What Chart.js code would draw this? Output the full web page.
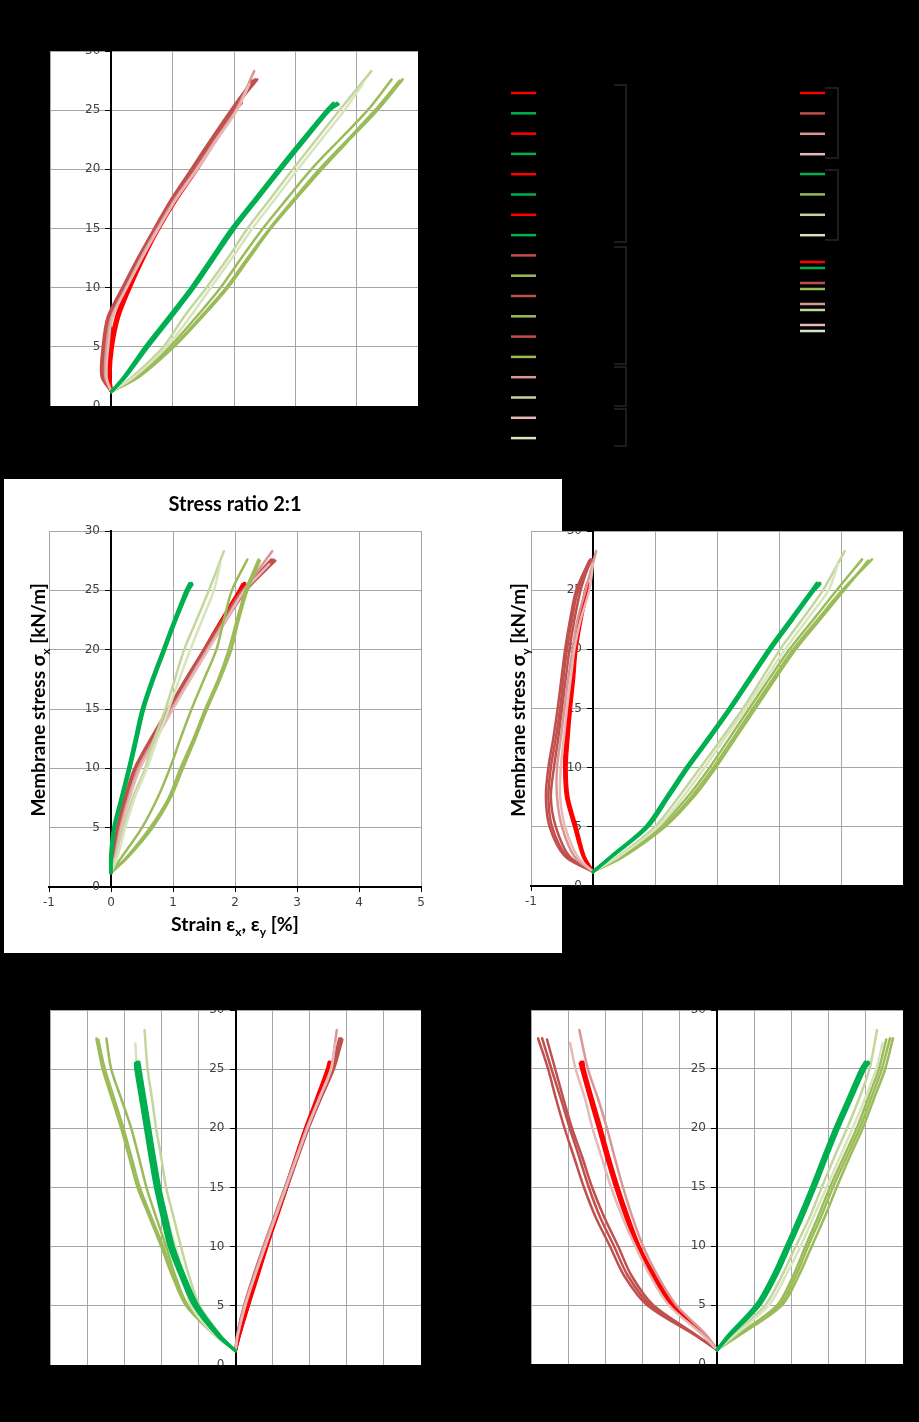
<!DOCTYPE html>
<html>
<head>
<meta charset="utf-8">
<title>Biaxial test curves</title>
<script src="https://cdn.jsdelivr.net/npm/chart.js@4.4.1/dist/chart.umd.min.js"></script>
<style>
  html, body { margin: 0; padding: 0; background: #000; }
  #page { position: relative; width: 919px; height: 1422px; background: #000; overflow: hidden; }
  canvas { position: absolute; }
  #cB { background: #fff; }
</style>
</head>
<body>
<div id="page">
  <canvas id="cA" width="919" height="470" style="left:0;top:0"></canvas>
  <canvas id="cB" width="558" height="474" style="left:4px;top:479px"></canvas>
  <canvas id="cC" width="457" height="490" style="left:462px;top:470px"></canvas>
  <canvas id="cD" width="460" height="462" style="left:0;top:960px"></canvas>
  <canvas id="cE" width="459" height="462" style="left:460px;top:960px"></canvas>
</div>
<script>
// stress levels [kN/m] shared by all curves, then the peak of each test
const stressSteps = [1.2, 2.5, 5, 7.5, 10, 12.5, 15, 17.5, 20, 22.5, 25];
const peakStress = [25.6, 25.5, 25.6, 25.4, 27.6, 27.6, 27.5, 28.3, 27.2];
const testNames = ['Test 1', 'Test 2', 'Test 3', 'Test 4', 'Test 5', 'Test 6', 'Test 7', 'Test 8', 'Test 9'];
const warpColors = ['#ff0000', '#ff0000', '#ff0000', '#ff0000', '#c0504d', '#c0504d', '#c0504d', '#d99694', '#e6b9b8'];
const weftColors = ['#00b050', '#00b050', '#00b050', '#00b050', '#9bbb59', '#9bbb59', '#9bbb59', '#c3d69b', '#d7e4bd'];

// strain [%] per test (rows) at each stress level (columns)
const topX = [
  [0, -0.02, 0.00, 0.10, 0.28, 0.50, 0.75, 1.05, 1.38, 1.68, 2.00, 2.10],
  [0, -0.03, -0.01, 0.08, 0.26, 0.48, 0.73, 1.03, 1.36, 1.66, 1.98, 2.06],
  [0, -0.02, 0.02, 0.12, 0.31, 0.53, 0.78, 1.07, 1.40, 1.71, 2.02, 2.12],
  [0, -0.04, -0.02, 0.09, 0.27, 0.49, 0.76, 1.05, 1.37, 1.69, 2.00, 2.07],
  [0, -0.15, -0.12, -0.05, 0.20, 0.45, 0.72, 1.00, 1.33, 1.65, 1.98, 2.38],
  [0, -0.13, -0.10, -0.02, 0.22, 0.47, 0.74, 1.02, 1.36, 1.68, 2.00, 2.34],
  [0, -0.16, -0.14, -0.06, 0.18, 0.43, 0.70, 0.98, 1.30, 1.62, 1.95, 2.30],
  [0, -0.10, -0.08, 0.00, 0.24, 0.48, 0.75, 1.04, 1.38, 1.70, 2.03, 2.33],
  [0, -0.08, -0.05, 0.02, 0.25, 0.50, 0.77, 1.06, 1.40, 1.72, 2.05, 2.25]
];
const topY = [
  [0, 0.22, 0.57, 0.95, 1.33, 1.65, 1.98, 2.36, 2.74, 3.13, 3.53, 3.68],
  [0, 0.24, 0.60, 0.98, 1.35, 1.68, 2.01, 2.39, 2.77, 3.16, 3.56, 3.70],
  [0, 0.21, 0.55, 0.93, 1.30, 1.63, 1.96, 2.34, 2.72, 3.11, 3.51, 3.62],
  [0, 0.23, 0.58, 0.96, 1.34, 1.67, 2.00, 2.38, 2.76, 3.15, 3.55, 3.66],
  [0, 0.42, 0.95, 1.38, 1.78, 2.12, 2.47, 2.86, 3.26, 3.72, 4.18, 4.57],
  [0, 0.46, 1.02, 1.48, 1.90, 2.25, 2.60, 3.01, 3.43, 3.88, 4.34, 4.75],
  [0, 0.45, 1.00, 1.45, 1.87, 2.22, 2.58, 2.98, 3.39, 3.85, 4.30, 4.70],
  [0, 0.35, 0.85, 1.18, 1.55, 1.90, 2.22, 2.59, 2.96, 3.34, 3.72, 4.24],
  [0, 0.38, 0.90, 1.28, 1.62, 1.97, 2.30, 2.67, 3.04, 3.42, 3.80, 4.10]
];
const midLeftX = [
  [0, 0.05, 0.13, 0.26, 0.42, 0.68, 0.96, 1.24, 1.52, 1.80, 2.09, 2.15],
  [0, 0.04, 0.12, 0.25, 0.41, 0.67, 0.95, 1.22, 1.50, 1.78, 2.07, 2.12],
  [0, 0.06, 0.14, 0.27, 0.43, 0.69, 0.97, 1.25, 1.53, 1.81, 2.10, 2.16],
  [0, 0.05, 0.13, 0.26, 0.42, 0.68, 0.96, 1.23, 1.51, 1.79, 2.08, 2.12],
  [0, 0.02, 0.10, 0.22, 0.38, 0.64, 0.92, 1.20, 1.50, 1.80, 2.12, 2.62],
  [0, 0.03, 0.11, 0.24, 0.40, 0.66, 0.94, 1.23, 1.53, 1.83, 2.15, 2.58],
  [0, 0.02, 0.12, 0.25, 0.41, 0.67, 0.95, 1.25, 1.55, 1.86, 2.18, 2.65],
  [0, 0.06, 0.15, 0.28, 0.44, 0.70, 0.98, 1.26, 1.55, 1.84, 2.14, 2.60],
  [0, 0.07, 0.17, 0.30, 0.47, 0.73, 1.00, 1.28, 1.57, 1.86, 2.16, 2.55]
];
const midLeftY = [
  [0, 0.00, 0.05, 0.17, 0.29, 0.40, 0.51, 0.67, 0.85, 1.03, 1.23, 1.30],
  [0, 0.01, 0.06, 0.18, 0.31, 0.42, 0.53, 0.69, 0.87, 1.05, 1.25, 1.31],
  [0, -0.01, 0.04, 0.16, 0.28, 0.39, 0.50, 0.66, 0.84, 1.02, 1.21, 1.27],
  [0, 0.00, 0.05, 0.17, 0.30, 0.41, 0.52, 0.68, 0.86, 1.04, 1.24, 1.29],
  [0, 0.17, 0.50, 0.75, 0.95, 1.12, 1.30, 1.50, 1.70, 1.82, 1.95, 2.20],
  [0, 0.25, 0.63, 0.93, 1.12, 1.33, 1.52, 1.73, 1.90, 2.03, 2.17, 2.38],
  [0, 0.27, 0.67, 0.96, 1.16, 1.36, 1.55, 1.76, 1.94, 2.06, 2.20, 2.40],
  [0, 0.08, 0.20, 0.35, 0.55, 0.70, 0.88, 1.03, 1.18, 1.38, 1.58, 1.82],
  [0, 0.10, 0.23, 0.38, 0.58, 0.75, 0.93, 1.10, 1.28, 1.47, 1.66, 1.76]
];
const midRightX = [
  [0, -0.15, -0.29, -0.42, -0.45, -0.42, -0.37, -0.33, -0.29, -0.20, -0.10, -0.08],
  [0, -0.14, -0.27, -0.40, -0.43, -0.40, -0.36, -0.31, -0.27, -0.19, -0.09, -0.07],
  [0, -0.16, -0.30, -0.43, -0.46, -0.44, -0.39, -0.34, -0.30, -0.22, -0.12, -0.09],
  [0, -0.15, -0.28, -0.41, -0.44, -0.41, -0.37, -0.32, -0.28, -0.20, -0.10, -0.08],
  [0, -0.42, -0.66, -0.72, -0.68, -0.60, -0.53, -0.48, -0.42, -0.34, -0.24, -0.02],
  [0, -0.38, -0.60, -0.68, -0.63, -0.56, -0.50, -0.44, -0.38, -0.30, -0.20, -0.04],
  [0, -0.45, -0.70, -0.76, -0.72, -0.64, -0.57, -0.51, -0.45, -0.37, -0.27, -0.06],
  [0, -0.30, -0.50, -0.58, -0.58, -0.52, -0.46, -0.40, -0.33, -0.25, -0.12, 0.05],
  [0, -0.25, -0.45, -0.53, -0.52, -0.47, -0.42, -0.36, -0.30, -0.20, -0.06, 0.00]
];
const midRightY = [
  [0, 0.30, 0.87, 1.20, 1.52, 1.87, 2.21, 2.53, 2.85, 3.20, 3.55, 3.66],
  [0, 0.31, 0.89, 1.22, 1.54, 1.89, 2.23, 2.55, 2.87, 3.22, 3.57, 3.66],
  [0, 0.29, 0.85, 1.18, 1.50, 1.85, 2.19, 2.51, 2.83, 3.18, 3.53, 3.61],
  [0, 0.30, 0.88, 1.21, 1.53, 1.88, 2.22, 2.54, 2.86, 3.21, 3.56, 3.63],
  [0, 0.46, 1.08, 1.52, 1.88, 2.20, 2.52, 2.84, 3.17, 3.55, 3.93, 4.34],
  [0, 0.48, 1.13, 1.58, 1.94, 2.26, 2.58, 2.90, 3.23, 3.62, 4.02, 4.50],
  [0, 0.50, 1.16, 1.62, 1.98, 2.30, 2.62, 2.94, 3.27, 3.66, 4.05, 4.44],
  [0, 0.40, 1.00, 1.38, 1.73, 2.08, 2.42, 2.72, 3.02, 3.37, 3.71, 4.06],
  [0, 0.42, 1.05, 1.45, 1.80, 2.13, 2.46, 2.78, 3.10, 3.45, 3.80, 3.95]
];
const botLeftX = [
  [0, 0.10, 0.33, 0.58, 0.83, 1.10, 1.37, 1.63, 1.90, 2.20, 2.49, 2.55],
  [0, 0.11, 0.35, 0.60, 0.85, 1.12, 1.39, 1.65, 1.92, 2.22, 2.51, 2.56],
  [0, 0.09, 0.32, 0.56, 0.81, 1.08, 1.35, 1.61, 1.88, 2.18, 2.47, 2.52],
  [0, 0.10, 0.34, 0.59, 0.84, 1.11, 1.38, 1.64, 1.91, 2.21, 2.50, 2.54],
  [0, 0.05, 0.25, 0.50, 0.78, 1.07, 1.37, 1.66, 1.95, 2.28, 2.63, 2.85],
  [0, 0.04, 0.23, 0.48, 0.75, 1.04, 1.33, 1.62, 1.91, 2.24, 2.58, 2.80],
  [0, 0.06, 0.27, 0.52, 0.80, 1.09, 1.39, 1.68, 1.97, 2.30, 2.65, 2.88],
  [0, 0.05, 0.24, 0.50, 0.76, 1.05, 1.34, 1.63, 1.92, 2.25, 2.57, 2.73],
  [0, 0.06, 0.26, 0.52, 0.80, 1.08, 1.36, 1.65, 1.94, 2.26, 2.58, 2.68]
];
const botLeftY = [
  [0, -0.45, -1.06, -1.42, -1.73, -1.92, -2.10, -2.24, -2.37, -2.50, -2.64, -2.66],
  [0, -0.49, -1.12, -1.48, -1.79, -1.98, -2.16, -2.30, -2.43, -2.56, -2.69, -2.70],
  [0, -0.42, -1.01, -1.37, -1.67, -1.86, -2.04, -2.18, -2.31, -2.44, -2.57, -2.60],
  [0, -0.47, -1.09, -1.45, -1.76, -1.95, -2.13, -2.27, -2.40, -2.53, -2.66, -2.67],
  [0, -0.55, -1.33, -1.70, -2.00, -2.32, -2.64, -2.86, -3.08, -3.33, -3.58, -3.75],
  [0, -0.52, -1.28, -1.62, -1.87, -2.14, -2.40, -2.60, -2.81, -3.08, -3.35, -3.48],
  [0, -0.54, -1.31, -1.67, -1.95, -2.27, -2.58, -2.80, -3.02, -3.27, -3.52, -3.70],
  [0, -0.40, -0.97, -1.25, -1.47, -1.67, -1.87, -2.00, -2.14, -2.25, -2.37, -2.45],
  [0, -0.55, -1.20, -1.40, -1.62, -1.85, -2.05, -2.22, -2.38, -2.52, -2.65, -2.70]
];
const botRightX = [
  [0, -0.35, -1.18, -1.70, -2.12, -2.42, -2.69, -2.93, -3.15, -3.38, -3.60, -3.65],
  [0, -0.37, -1.22, -1.74, -2.16, -2.46, -2.73, -2.97, -3.19, -3.42, -3.64, -3.68],
  [0, -0.33, -1.15, -1.67, -2.09, -2.39, -2.66, -2.90, -3.12, -3.35, -3.57, -3.60],
  [0, -0.36, -1.20, -1.72, -2.14, -2.44, -2.71, -2.95, -3.17, -3.40, -3.62, -3.64],
  [0, -0.60, -1.80, -2.40, -2.77, -3.15, -3.45, -3.70, -3.96, -4.20, -4.45, -4.70],
  [0, -0.62, -1.88, -2.50, -2.88, -3.27, -3.58, -3.84, -4.10, -4.33, -4.54, -4.81],
  [0, -0.58, -1.72, -2.30, -2.66, -3.04, -3.36, -3.62, -3.90, -4.13, -4.35, -4.57],
  [0, -0.30, -1.10, -1.60, -1.99, -2.28, -2.53, -2.75, -2.96, -3.20, -3.47, -3.70],
  [0, -0.40, -1.30, -1.80, -2.20, -2.55, -2.85, -3.10, -3.35, -3.55, -3.80, -3.95]
];
const botRightY = [
  [0, 0.35, 1.10, 1.55, 1.91, 2.26, 2.59, 2.90, 3.22, 3.57, 3.92, 4.06],
  [0, 0.38, 1.15, 1.60, 1.96, 2.31, 2.64, 2.95, 3.27, 3.62, 3.97, 4.08],
  [0, 0.32, 1.05, 1.50, 1.86, 2.21, 2.54, 2.85, 3.17, 3.52, 3.87, 3.99],
  [0, 0.36, 1.12, 1.57, 1.93, 2.28, 2.61, 2.92, 3.24, 3.59, 3.94, 4.02],
  [0, 0.60, 1.69, 2.12, 2.45, 2.80, 3.12, 3.48, 3.84, 4.14, 4.43, 4.65],
  [0, 0.63, 1.75, 2.20, 2.55, 2.90, 3.22, 3.56, 3.92, 4.22, 4.52, 4.73],
  [0, 0.57, 1.62, 2.05, 2.38, 2.72, 3.04, 3.40, 3.76, 4.06, 4.35, 4.55],
  [0, 0.45, 1.30, 1.75, 2.12, 2.50, 2.82, 3.15, 3.50, 3.82, 4.10, 4.30],
  [0, 0.50, 1.40, 1.85, 2.25, 2.60, 2.95, 3.30, 3.65, 3.98, 4.28, 4.45]
];

const FONT = 'Lato, "Open Sans", sans-serif';
const TICK_FONT = '"DejaVu Sans", sans-serif';
const GRID = '#a6a6a6';
const TICK_TEXT = '#404040';
Chart.defaults.font.family = FONT;

// stacking: red at the bottom, the dark green tests on top
function warpOrder(t) { return t < 4 ? 8 : t < 7 ? 7 : t === 7 ? 6 : 5; }
function weftOrder(t) { return t < 4 ? 1 : t < 7 ? 4 : t === 7 ? 3 : 2; }

function buildDatasets(strainX, strainY) {
  const sets = [];
  for (let t = 0; t < testNames.length; t++) {
    const stress = stressSteps.concat([peakStress[t]]);
    const w = t < 4 ? 3 : 2.5;
    sets.push({
      label: testNames[t] + ' εx',
      data: stress.map((s, k) => ({ x: strainX[t][k], y: s })),
      borderColor: warpColors[t], borderWidth: w, order: warpOrder(t)
    });
    sets.push({
      label: testNames[t] + ' εy',
      data: stress.map((s, k) => ({ x: strainY[t][k], y: s })),
      borderColor: weftColors[t], borderWidth: w, order: weftOrder(t)
    });
  }
  sets.forEach(d => {
    d.showLine = true;
    d.pointRadius = 0;
    d.tension = 0.3;
    d.borderJoinStyle = 'round';
    d.borderCapStyle = 'round';
  });
  return sets;
}

// text with subscripts, centred on (x, y)
function drawRich(ctx, item) {
  const size = item.size;
  ctx.save();
  ctx.translate(item.x, item.y);
  if (item.rotate) ctx.rotate(-Math.PI / 2);
  ctx.fillStyle = '#000';
  ctx.textBaseline = 'alphabetic';
  const fonts = item.parts.map(p => 'bold ' + (p.sub ? Math.round(size * 0.62) : size) + 'px ' + FONT);
  let total = 0;
  const widths = item.parts.map((p, i) => {
    ctx.font = fonts[i];
    const w = ctx.measureText(p.t).width;
    total += w;
    return w;
  });
  let x = -total / 2;
  item.parts.forEach((p, i) => {
    ctx.font = fonts[i];
    ctx.fillText(p.t, x, size * 0.35 + (p.sub ? size * 0.28 : 0));
    x += widths[i];
  });
  ctx.restore();
}

function seg(ctx, x1, x2, y, color) {
  ctx.strokeStyle = color;
  ctx.beginPath();
  ctx.moveTo(x1, y);
  ctx.lineTo(x2, y);
  ctx.stroke();
}

function bracket(ctx, x1, x2, y1, y2) {
  ctx.strokeStyle = '#262626';
  ctx.lineWidth = 1.5;
  ctx.beginPath();
  ctx.moveTo(x1, y1);
  ctx.lineTo(x2, y1);
  ctx.lineTo(x2, y2);
  ctx.lineTo(x1, y2);
  ctx.stroke();
}

function drawLegend(chart) {
  const ctx = chart.ctx;
  ctx.save();
  ctx.lineWidth = 2.5;
  chart.data.datasets.forEach((ds, i) => {
    seg(ctx, 511, 536, 93 + i * 20.3, ds.borderColor);
  });
  const groups = [0, 4, 7, 8];
  groups.forEach((t, i) => {
    ctx.lineWidth = 2.5;
    seg(ctx, 800, 825, 93 + i * 20.4, warpColors[t]);
    seg(ctx, 800, 825, 174 + i * 20.4, weftColors[t]);
    seg(ctx, 800, 825, 262 + i * 21, warpColors[t]);
    seg(ctx, 800, 825, 268 + i * 21, weftColors[t]);
  });
  bracket(ctx, 614, 626, 85, 242);
  bracket(ctx, 614, 626, 247, 364);
  bracket(ctx, 614, 626, 367, 406);
  bracket(ctx, 614, 626, 409, 446);
  bracket(ctx, 825, 838, 88, 158);
  bracket(ctx, 825, 838, 170, 240);
  ctx.restore();
}

const panelPlugin = {
  id: 'panelDecor',
  beforeDraw(chart) {
    const { ctx, chartArea: a } = chart;
    ctx.save();
    ctx.fillStyle = '#fff';
    ctx.fillRect(a.left, a.top, a.right - a.left, a.bottom - a.top);
    ctx.restore();
  },
  // y tick labels sit left of the axis that crosses at strain 0
  beforeDatasetsDraw(chart) {
    const { ctx } = chart;
    const ys = chart.scales.y;
    const x0 = chart.scales.x.getPixelForValue(0);
    ctx.save();
    ctx.font = '12px ' + TICK_FONT;
    ctx.fillStyle = TICK_TEXT;
    ctx.textAlign = 'right';
    ctx.textBaseline = 'middle';
    ys.ticks.forEach(t => ctx.fillText(t.label, x0 - 11, ys.getPixelForValue(t.value)));
    ctx.restore();
  },
  afterDraw(chart, args, opts) {
    const { ctx, chartArea: a } = chart;
    if (opts.mask) {
      ctx.save();
      ctx.globalCompositeOperation = 'destination-in';
      ctx.fillStyle = '#000';
      ctx.beginPath();
      ctx.rect(a.left, a.top, a.right - a.left, a.bottom - a.top);
      (opts.keep || []).forEach(r => ctx.rect(r[0], r[1], r[2], r[3]));
      ctx.fill();
      ctx.restore();
    }
    (opts.texts || []).forEach(t => drawRich(ctx, t));
    if (opts.legend) drawLegend(chart);
  }
};

function makeChart(id, strainX, strainY, cfg) {
  return new Chart(document.getElementById(id), {
    type: 'scatter',
    data: { datasets: buildDatasets(strainX, strainY) },
    options: {
      responsive: false,
      animation: false,
      events: [],
      layout: { padding: cfg.padding },
      plugins: {
        legend: { display: false },
        tooltip: { enabled: false },
        panelDecor: { mask: cfg.mask, keep: cfg.keep, texts: cfg.texts, legend: cfg.legend }
      },
      scales: {
        x: {
          type: 'linear', position: 'bottom', min: cfg.xMin, max: cfg.xMax,
          ticks: { stepSize: 1, color: TICK_TEXT, font: { size: 12, family: TICK_FONT }, padding: 4 },
          grid: { color: GRID, tickColor: '#000', tickLength: 5 },
          border: { color: cfg.xBorder, width: cfg.xBorderWidth },
          afterFit: s => { s.height = 24; }
        },
        y: {
          type: 'linear', position: { x: 0 }, min: 0, max: 30,
          ticks: { stepSize: 5, display: false },
          grid: { color: GRID, tickColor: '#000', tickLength: 5 },
          border: { color: '#000', width: 2 },
          afterFit: s => { s.width = 0; }
        }
      }
    },
    plugins: [panelPlugin]
  });
}

const stressLabel = sub => [{ t: 'Membrane stress σ' }, { t: sub, sub: true }, { t: ' [kN/m]' }];

makeChart('cA', topX, topY, {
  padding: { left: 50, top: 51, right: 501, bottom: 40 },
  xMin: -1, xMax: 5, xBorder: GRID, xBorderWidth: 1,
  mask: true, keep: [], texts: [], legend: true
});
makeChart('cB', midLeftX, midLeftY, {
  padding: { left: 45, top: 52, right: 141, bottom: 42 },
  xMin: -1, xMax: 5, xBorder: '#000', xBorderWidth: 2,
  mask: false, keep: [], legend: false,
  texts: [
    { x: 231, y: 25, size: 20, parts: [{ t: 'Stress ratio 2:1' }] },
    { x: 34, y: 221, size: 19, rotate: true, parts: stressLabel('x') },
    { x: 231, y: 445, size: 19.5, parts: [{ t: 'Strain ε' }, { t: 'x', sub: true }, { t: ', ε' }, { t: 'y', sub: true }, { t: ' [%]' }] }
  ]
});
makeChart('cC', midRightX, midRightY, {
  padding: { left: 69, top: 61, right: 16, bottom: 50 },
  xMin: -1, xMax: 5, xBorder: '#000', xBorderWidth: 2,
  mask: true, keep: [[0, 9, 100, 474]], legend: false,
  texts: [{ x: 56, y: 230, size: 19, rotate: true, parts: stressLabel('y') }]
});
makeChart('cD', botLeftX, botLeftY, {
  padding: { left: 50, top: 50, right: 39, bottom: 33 },
  xMin: -5, xMax: 5, xBorder: GRID, xBorderWidth: 1,
  mask: true, keep: [], texts: [], legend: false
});
makeChart('cE', botRightX, botRightY, {
  padding: { left: 71, top: 50, right: 16, bottom: 34 },
  xMin: -5, xMax: 5, xBorder: GRID, xBorderWidth: 1,
  mask: true, keep: [], texts: [], legend: false
});
</script>
</body>
</html>
